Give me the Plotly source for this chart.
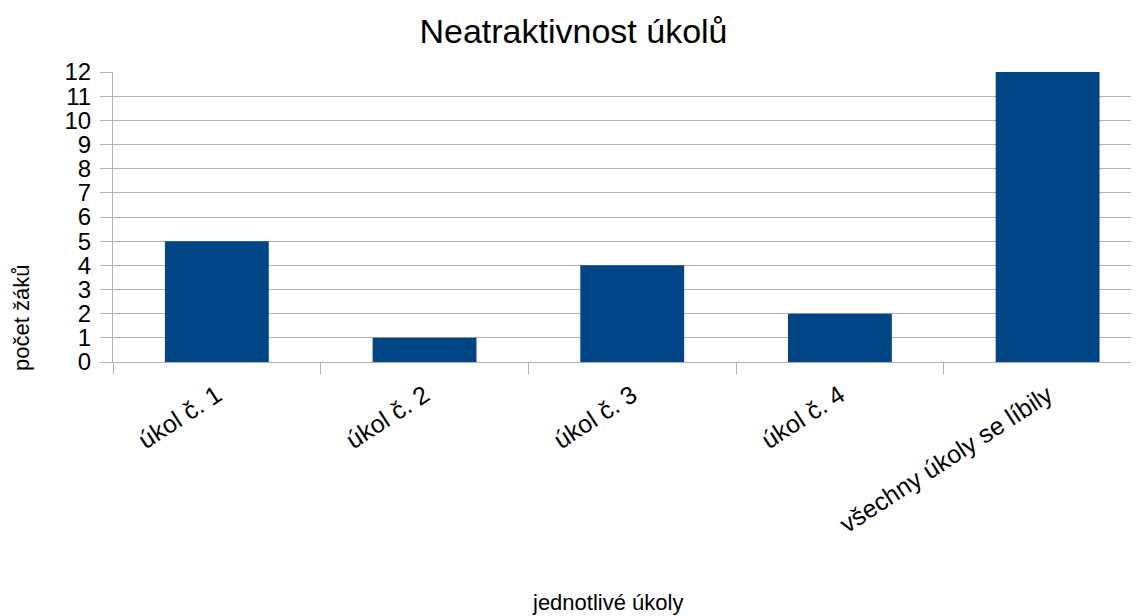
import plotly.graph_objects as go

categories = ["úkol č. 1", "úkol č. 2", "úkol č. 3", "úkol č. 4", "všechny úkoly se líbily"]
counts = [5, 1, 4, 2, 12]
y_ticks = list(range(0, 13))

FONT = "Liberation Sans, Arial, sans-serif"
GRID = "#b3b3b3"

# page body adds an 8px margin, so the figure is sized to fit the window
fig = go.Figure(go.Bar(x=categories, y=counts, marker_color="#004586", marker_line_width=0))

fig.update_layout(
    width=1131, height=608,
    template="plotly_white",
    font=dict(family=FONT, color="black"),
    margin=dict(l=105, r=0, t=64, b=254),
    bargap=0.5,
    showlegend=False,
    title=dict(text="Neatraktivnost úkolů", x=0.5, xanchor="center", y=0.962, yanchor="middle",
               font=dict(size=34, family=FONT)),
    plot_bgcolor="white",
)
# the original plot area runs past the right edge of the picture
fig.update_xaxes(
    range=[-0.5, 4.44], tickangle=-33, tickfont=dict(size=25), ticks="outside", ticklen=11,
    tickcolor=GRID, tickson="boundaries", showline=True, linecolor=GRID, showgrid=False,
    automargin=False, ticklabelstandoff=8,
)
fig.update_yaxes(
    range=[0, 12], tickvals=y_ticks, tickfont=dict(size=24), ticks="outside", ticklen=12,
    tickcolor=GRID, gridcolor=GRID, showline=True, linecolor=GRID, zeroline=False,
    automargin=False, ticklabelstandoff=4,
)
fig.add_annotation(text="počet žáků", xref="paper", yref="paper", x=-0.0887, y=0.152,
                   textangle=-90, showarrow=False, font=dict(size=22, family=FONT),
                   xanchor="center", yanchor="middle")
fig.add_annotation(text="jednotlivé úkoly", xref="paper", yref="paper", x=0.482, y=-0.831,
                   showarrow=False, font=dict(size=22, family=FONT),
                   xanchor="center", yanchor="middle")

fig.write_html("out.html")
